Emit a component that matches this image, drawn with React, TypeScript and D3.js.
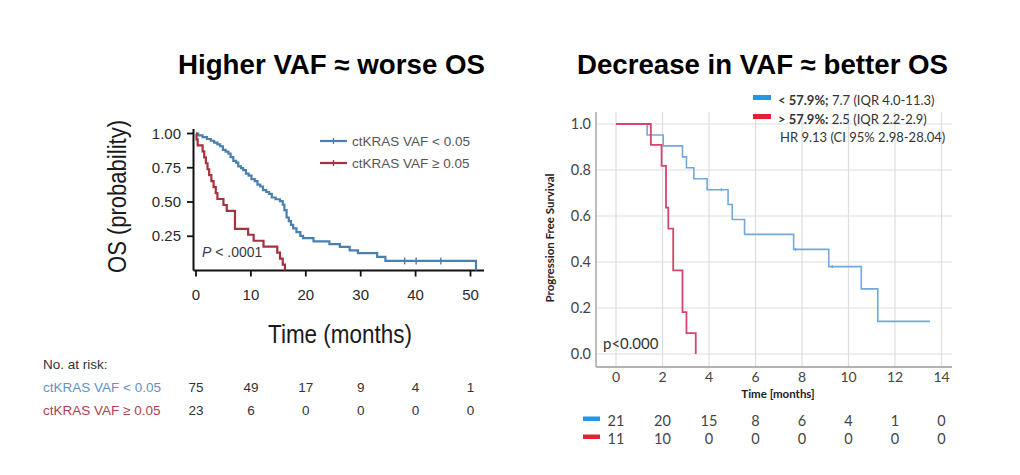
import React from 'react';
import * as d3 from 'd3';

// ---------- Left panel data ----------
const leftTitle = 'Higher VAF ≈ worse OS';
const leftXTicks = [0, 10, 20, 30, 40, 50];
const leftYTicks = [0.25, 0.5, 0.75, 1.0];
const leftSeriesNames = ['ctKRAS VAF < 0.05', 'ctKRAS VAF ≥ 0.05'];
const leftBlueTimes = [0.4, 1.2, 2.0, 2.7, 3.3, 3.9, 4.4, 4.9, 5.4, 5.9, 6.3, 6.8, 7.3, 7.7, 8.2, 8.6, 9.1, 9.6, 10.1, 10.7, 11.2, 11.7, 12.2, 12.8, 13.3, 13.8, 14.5, 15.3, 15.8, 16.1, 16.5, 16.9, 17.3, 17.7, 18.3, 19.0, 19.5, 21.4, 24.3, 26.2, 28.0, 29.5, 33.0, 34.5, 51.0];
const leftBlueSurv = [0.987, 0.973, 0.96, 0.947, 0.933, 0.92, 0.907, 0.88, 0.867, 0.853, 0.827, 0.8, 0.787, 0.76, 0.747, 0.733, 0.707, 0.693, 0.667, 0.653, 0.627, 0.613, 0.587, 0.573, 0.56, 0.533, 0.52, 0.507, 0.48, 0.44, 0.387, 0.36, 0.333, 0.307, 0.28, 0.253, 0.237, 0.213, 0.193, 0.173, 0.147, 0.127, 0.1, 0.07, 0];
const leftBlueCensor = [38.0, 40.1, 44.6];
const leftBlueCensorSurv = [0.07, 0.07, 0.07];
const leftRedTimes = [0.1, 0.3, 1.2, 1.5, 1.8, 2.1, 2.4, 2.8, 3.2, 3.6, 3.9, 5.0, 5.6, 7.1, 9.5, 10.5, 12.3, 14.8, 15.3, 15.8, 16.2];
const leftRedSurv = [0.957, 0.913, 0.87, 0.826, 0.783, 0.739, 0.696, 0.652, 0.609, 0.565, 0.522, 0.478, 0.435, 0.304, 0.261, 0.217, 0.174, 0.13, 0.087, 0.043, 0];
const leftRiskBlue = [75, 49, 17, 9, 4, 1];
const leftRiskRed = [23, 6, 0, 0, 0, 0];

// ---------- Right panel data ----------
const rightTitle = 'Decrease in VAF ≈ better OS';
const rightXTicks = [0, 2, 4, 6, 8, 10, 12, 14];
const rightYTicks = [0, 0.2, 0.4, 0.6, 0.8, 1.0];
const rightBlueTimes = [1.34, 2.03, 2.86, 3.03, 3.35, 3.92, 4.82, 5.0, 5.53, 7.64, 9.15, 10.55, 11.26, 13.5];
const rightBlueSurv = [0.952, 0.905, 0.857, 0.81, 0.762, 0.714, 0.65, 0.585, 0.52, 0.455, 0.38, 0.283, 0.142, 0.142];
const rightBlueCensor = [4.53, 7.72, 9.3];
const rightBlueCensorSurv = [0.714, 0.455, 0.38];
const rightRedTimes = [1.5, 1.96, 2.15, 2.25, 2.46, 2.86, 3.03, 3.43];
const rightRedSurv = [0.909, 0.818, 0.636, 0.545, 0.364, 0.182, 0.091, 0];
const rightRiskBlue = [21, 20, 15, 8, 6, 4, 1, 0];
const rightRiskRed = [11, 10, 0, 0, 0, 0, 0, 0];
const rightLegendBold = ['< 57.9%;', '> 57.9%:'];
const rightLegendRest = [' 7.7 (IQR 4.0-11.3)', ' 2.5 (IQR 2.2-2.9)'];
const rightHR = 'HR 9.13 (CI 95% 2.98-28.04)';

const LFONT = '"Liberation Sans", Arial, Helvetica, sans-serif';
const RFONT = 'Lato, "Open Sans", sans-serif';

const C_LBLUE = '#4a7fb0';
const C_LRED = '#a5323f';
const C_RBLUE = '#72a9dc';
const C_RRED = '#d8456c';

function zip(times: number[], surv: number[]): [number, number][] {
  return [[0, 1] as [number, number]].concat(times.map((t, i) => [t, surv[i]] as [number, number]));
}

export default function App() {
  // Left scales
  const lx = d3.scaleLinear().domain([0, 50]).range([196, 470.5]);
  const ly = d3.scaleLinear().domain([0, 1]).range([270.5, 133.5]);
  const lline = d3.line<[number, number]>().x(d => lx(d[0])).y(d => ly(d[1])).curve(d3.curveStepAfter);

  // Right scales
  const rx = d3.scaleLinear().domain([0, 14]).range([616, 941.5]);
  const ry = d3.scaleLinear().domain([0, 1]).range([354, 124]);
  const rline = d3.line<[number, number]>().x(d => rx(d[0])).y(d => ry(d[1])).curve(d3.curveStepAfter);

  const lAxisX = 193.5;
  const lAxisY = 270.5;

  return (
    <svg width={1020} height={475} style={{ position: 'absolute', left: 0, top: 0, background: '#fff' }}>
      <rect x={0} y={0} width={1020} height={475} fill="#fff" />
      {/* Titles */}
      <text x={178} y={74} fontFamily={LFONT} fontWeight="bold" fontSize={27} fill="#000" textLength={307} lengthAdjust="spacingAndGlyphs">{leftTitle}</text>
      <text x={577} y={74} fontFamily={LFONT} fontWeight="bold" fontSize={27} fill="#000" textLength={371} lengthAdjust="spacingAndGlyphs">{rightTitle}</text>

      {/* ---------- Left panel ---------- */}
      <g>
        <line x1={lAxisX} x2={lAxisX} y1={129} y2={lAxisY} stroke="#111" strokeWidth={2} />
        <line x1={lAxisX} x2={484} y1={lAxisY} y2={lAxisY} stroke="#111" strokeWidth={2} />
        {leftYTicks.map(t => (
          <g key={'ly' + t}>
            <line x1={lAxisX - 6.5} x2={lAxisX} y1={ly(t)} y2={ly(t)} stroke="#111" strokeWidth={1.8} />
            <text x={181} y={ly(t) + 5} textAnchor="end" fontFamily={LFONT} fontSize={15} fill="#2a2a2a">{d3.format('.2f')(t)}</text>
          </g>
        ))}
        {leftXTicks.map(t => (
          <g key={'lx' + t}>
            <line x1={lx(t)} x2={lx(t)} y1={lAxisY} y2={lAxisY + 6} stroke="#111" strokeWidth={1.8} />
            <text x={lx(t)} y={300} textAnchor="middle" fontFamily={LFONT} fontSize={15} fill="#2a2a2a">{t}</text>
          </g>
        ))}
        <text x={340} y={343} textAnchor="middle" fontFamily={LFONT} fontSize={26} fill="#1a1a1a" textLength={144} lengthAdjust="spacingAndGlyphs">Time (months)</text>
        <text transform="translate(126,196.5) rotate(-90)" textAnchor="middle" fontFamily={LFONT} fontSize={25} fill="#1a1a1a" textLength={153} lengthAdjust="spacingAndGlyphs">OS (probability)</text>

        <path d={lline(zip(leftBlueTimes, leftBlueSurv)) || ''} fill="none" stroke={C_LBLUE} strokeWidth={2.2} />
        {leftBlueCensor.map((t, i) => (
          <line key={'lbc' + i} x1={lx(t)} x2={lx(t)} y1={ly(leftBlueCensorSurv[i]) - 3.5} y2={ly(leftBlueCensorSurv[i]) + 3.5} stroke={C_LBLUE} strokeWidth={1.4} />
        ))}
        <path d={lline(zip(leftRedTimes, leftRedSurv)) || ''} fill="none" stroke={C_LRED} strokeWidth={2.2} />

        <text x={202} y={257} fontFamily={LFONT} fontSize={14} fill="#3a3a3a"><tspan fontStyle="italic">P</tspan> &lt; .0001</text>

        {/* legend */}
        {[C_LBLUE, C_LRED].map((c, i) => (
          <g key={'lleg' + i}>
            <line x1={320} x2={347} y1={141 + i * 22} y2={141 + i * 22} stroke={c} strokeWidth={2.2} />
            <line x1={333.5} x2={333.5} y1={138 + i * 22} y2={144 + i * 22} stroke={c} strokeWidth={1.3} />
            <text x={352} y={146 + i * 22} fontFamily={LFONT} fontSize={13.5} fill="#555">{leftSeriesNames[i]}</text>
          </g>
        ))}

        {/* risk table */}
        <text x={43} y={369} fontFamily={LFONT} fontSize={13.5} fill="#333">No. at risk:</text>
        <text x={43} y={392} fontFamily={LFONT} fontSize={13.5} fill="#5f93c4">{leftSeriesNames[0]}</text>
        <text x={43} y={415} fontFamily={LFONT} fontSize={13.5} fill="#a8434f">{leftSeriesNames[1]}</text>
        {leftXTicks.map((t, i) => (
          <g key={'lr' + t}>
            <text x={lx(t)} y={392} textAnchor="middle" fontFamily={LFONT} fontSize={13.5} fill="#333">{leftRiskBlue[i]}</text>
            <text x={lx(t)} y={415} textAnchor="middle" fontFamily={LFONT} fontSize={13.5} fill="#333">{leftRiskRed[i]}</text>
          </g>
        ))}
      </g>

      {/* ---------- Right panel ---------- */}
      <g>
        {rightYTicks.map(t => (
          <g key={'ry' + t}>
            <line x1={596} x2={952} y1={ry(t)} y2={ry(t)} stroke="#dedede" strokeWidth={1.2} />
            <text x={591} y={ry(t) + 5} textAnchor="end" fontFamily={RFONT} fontSize={14.5} fill="#444">{d3.format('.1f')(t)}</text>
          </g>
        ))}
        {rightXTicks.map(t => (
          <g key={'rx' + t}>
            <line x1={rx(t)} x2={rx(t)} y1={112} y2={367} stroke="#dedede" strokeWidth={1.2} />
            <text x={rx(t)} y={382} textAnchor="middle" fontFamily={RFONT} fontSize={14} fill="#444">{t}</text>
          </g>
        ))}
        <line x1={596} x2={596} y1={112} y2={367} stroke="#9a9a9a" strokeWidth={1.3} />
        <line x1={596} x2={952} y1={367} y2={367} stroke="#9a9a9a" strokeWidth={1.3} />

        <text x={778} y={398} textAnchor="middle" fontFamily={RFONT} fontWeight="bold" fontSize={11.5} fill="#222">Time [months]</text>
        <text transform="translate(554,238) rotate(-90)" textAnchor="middle" fontFamily={RFONT} fontWeight="bold" fontSize={11.5} fill="#222">Progression Free Survival</text>

        <path d={rline(zip(rightBlueTimes, rightBlueSurv)) || ''} fill="none" stroke={C_RBLUE} strokeWidth={1.6} />
        {rightBlueCensor.map((t, i) => (
          <line key={'rbc' + i} x1={rx(t)} x2={rx(t)} y1={ry(rightBlueCensorSurv[i]) - 1.5} y2={ry(rightBlueCensorSurv[i]) + 1.5} stroke={C_RBLUE} strokeWidth={1.4} />
        ))}
        <path d={rline(zip(rightRedTimes, rightRedSurv)) || ''} fill="none" stroke={C_RRED} strokeWidth={1.8} />

        <text x={603} y={349} fontFamily={RFONT} fontSize={15} fill="#333">p&lt;0.000</text>

        {/* legend */}
        {['#2596e3', '#e2232f'].map((c, i) => (
          <g key={'rleg' + i}>
            <rect x={753} y={95 + i * 19} width={18} height={5} fill={c} />
            <text x={778} y={105 + i * 18.5} fontFamily={RFONT} fontSize={13} fill="#333">
              <tspan fontWeight="bold">{rightLegendBold[i]}</tspan>{rightLegendRest[i]}
            </text>
          </g>
        ))}
        <text x={780} y={142} fontFamily={RFONT} fontSize={13} fill="#333">{rightHR}</text>

        {/* risk table */}
        <rect x={583} y={416.5} width={17} height={4.5} fill="#2596e3" />
        <rect x={583} y={434.5} width={17} height={4.5} fill="#e2232f" />
        {rightXTicks.map((t, i) => (
          <g key={'rr' + t}>
            <text x={rx(t)} y={426} textAnchor="middle" fontFamily={RFONT} fontSize={14.5} fill="#444">{rightRiskBlue[i]}</text>
            <text x={rx(t)} y={443.5} textAnchor="middle" fontFamily={RFONT} fontSize={14.5} fill="#444">{rightRiskRed[i]}</text>
          </g>
        ))}
      </g>
    </svg>
  );
}
